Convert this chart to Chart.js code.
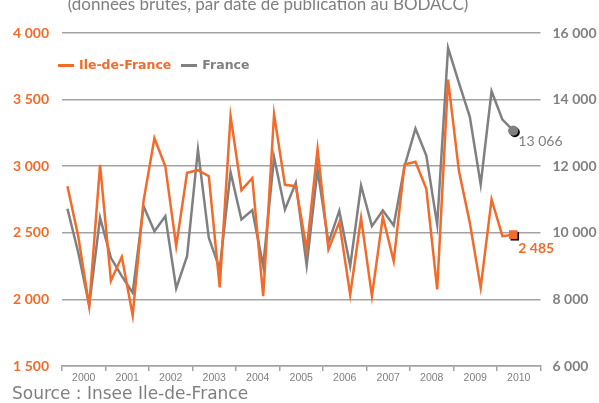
<!DOCTYPE html>
<html>
<head>
<meta charset="utf-8">
<script src="https://cdn.jsdelivr.net/npm/chart.js@4/dist/chart.umd.min.js"></script>
<style>
  body { margin: 0; background: #fff; }
  #wrap { position: relative; width: 599px; height: 403px; overflow: hidden; background: #fff; }
  #myChart { position: absolute; left: 0; top: 0; }
  .txt { position: absolute; font-family: Lato, "Open Sans", sans-serif; color: #7f7f7f; white-space: nowrap; }
  #title { left: 0; width: 536px; top: -5px; text-align: center; font-size: 17px; line-height: 17px; }
  #source { left: 12px; top: 385px; font-family: "DejaVu Sans", sans-serif; font-size: 17px; line-height: 17px; }
  #legend { left: 58px; top: 58px; font-family: "DejaVu Sans", sans-serif; font-size: 12.5px; font-weight: bold; line-height: 14px; display: flex; }
  #legend .item { display: flex; align-items: center; margin-right: 10px; }
  #legend .swatch { display: inline-block; width: 16px; height: 3px; margin-right: 5px; }
</style>
</head>
<body>
<div id="wrap">
  <canvas id="myChart" width="599" height="403"></canvas>
  <div id="title" class="txt">(données brutes, par date de publication au BODACC)</div>
  <div id="legend" class="txt"></div>
  <div id="source" class="txt">Source : Insee Ile-de-France</div>
</div>
<script>
// années et trimestres
var years = ['2000', '2001', '2002', '2003', '2004', '2005', '2006', '2007', '2008', '2009', '2010'];
var quarters = ['T1', 'T2', 'T3', 'T4'];

// défaillances d'entreprises, données brutes trimestrielles
var ileDeFrance = [2850, 2470, 1950, 3010, 2140, 2320, 1880, 2740, 3210, 3000, 2400, 2950,
    2970, 2925, 2090, 3375, 2820, 2910, 2025, 3390, 2860, 2850, 2375, 3130,
    2375, 2580, 2035, 2612, 2025, 2620, 2288, 3013, 3033, 2830, 2075, 3650,
    2963, 2575, 2088, 2750, 2475, 2485];
var france = [10720, 9400, 7820, 10450, 9250, 8700, 8200, 10800, 10050, 10500, 8330, 9300,
    12500, 9850, 8920, 11820, 10400, 10680, 9000, 12270, 10700, 11500, 9020, 11900,
    9700, 10660, 9000, 11420, 10200, 10670, 10220, 12000, 13130, 12320, 10250, 15550,
    14500, 13480, 11450, 14250, 13400, 13066];

var leftTicks = { min: 1500, max: 4000, step: 500 };
var rightTicks = { min: 6000, max: 16000, step: 2000 };

var orange = '#f26b2a';
var grey = '#808080';
var gridGrey = '#a3a3a3';

var quarterLabels = [];
years.forEach(function (y) {
    quarters.forEach(function (q) { quarterLabels.push(y + ' ' + q); });
});

function fmt(v) {
    return String(v).replace(/\B(?=(\d{3})+(?!\d))/g, ' ');
}

function lastOnly(r) {
    return function (c) { return c.dataIndex === c.dataset.data.length - 1 ? r : 0; };
}

// dernier point avec ombre + étiquette de valeur
var endMarks = {
    id: 'endMarks',
    afterDatasetsDraw: function (chart) {
        var ctx = chart.ctx;
        chart.data.datasets.forEach(function (ds, i) {
            var meta = chart.getDatasetMeta(i);
            var last = meta.data.length - 1;
            var pt = meta.data[last];
            ctx.save();
            ctx.shadowColor = '#000';
            ctx.shadowOffsetX = 1.5;
            ctx.shadowOffsetY = 1.5;
            ctx.shadowBlur = 0;
            pt.draw(ctx, chart.chartArea);
            ctx.restore();
            ctx.save();
            ctx.font = ds.labelFont;
            ctx.fillStyle = ds.borderColor;
            ctx.textAlign = 'left';
            ctx.textBaseline = 'middle';
            ctx.fillText(fmt(ds.data[last]), pt.x + 5, pt.y + ds.labelDy);
            ctx.restore();
        });
    }
};

var ctx = document.getElementById('myChart');
var chart = new Chart(ctx, {
    type: 'line',
    data: {
        labels: quarterLabels,
        datasets: [
            {
                label: 'Ile-de-France', data: ileDeFrance, yAxisID: 'y', xAxisID: 'xq',
                borderColor: orange, backgroundColor: orange, borderWidth: 2.5, tension: 0,
                pointStyle: 'rect', pointRadius: lastOnly(6), pointBorderWidth: 0,
                pointBackgroundColor: orange, labelFont: 'bold 14px Lato', labelDy: 14
            },
            {
                label: 'France', data: france, yAxisID: 'y1', xAxisID: 'xq',
                borderColor: grey, backgroundColor: grey, borderWidth: 2.5, tension: 0,
                pointStyle: 'circle', pointRadius: lastOnly(5), pointBorderWidth: 0,
                pointBackgroundColor: grey, labelFont: '14px Lato', labelDy: 11
            }
        ]
    },
    options: {
        responsive: false,
        animation: false,
        devicePixelRatio: 1,
        layout: { padding: { top: 33, left: 0, right: 0, bottom: 0 } },
        plugins: {
            legend: { display: false },
            tooltip: { enabled: false }
        },
        scales: {
            xq: {
                type: 'category', position: 'bottom', display: false, offset: true
            },
            x: {
                type: 'category', position: 'bottom', labels: years, offset: true,
                afterFit: function (s) { s.height = 37; },
                grid: { offset: true, drawOnChartArea: false, tickLength: 5, color: gridGrey, lineWidth: 1.5 },
                border: { display: true, color: gridGrey, width: 1.5 },
                ticks: { color: grey, padding: 1, maxRotation: 0, font: { family: 'Liberation Sans', size: 10.5 } }
            },
            y: {
                position: 'left', min: leftTicks.min, max: leftTicks.max,
                afterFit: function (s) { s.width = 62; },
                grid: { color: gridGrey, lineWidth: 1.5, drawTicks: false },
                border: { display: false },
                ticks: {
                    stepSize: leftTicks.step, color: orange, padding: 13,
                    font: { family: 'Lato', size: 14, weight: 'bold' },
                    callback: function (v) { return fmt(v); }
                }
            },
            y1: {
                position: 'right', min: rightTicks.min, max: rightTicks.max,
                afterFit: function (s) { s.width = 58.5; },
                grid: { display: false, drawTicks: false },
                border: { display: false },
                ticks: {
                    stepSize: rightTicks.step, color: grey, padding: 12,
                    font: { family: 'Lato', size: 14, weight: 'bold' },
                    callback: function (v) { return fmt(v); }
                }
            }
        }
    },
    plugins: [endMarks]
});

// légende dans la zone du graphique
var legend = document.getElementById('legend');
chart.data.datasets.forEach(function (ds) {
    var item = document.createElement('span');
    item.className = 'item';
    item.style.color = ds.borderColor;
    var sw = document.createElement('span');
    sw.className = 'swatch';
    sw.style.background = ds.borderColor;
    item.appendChild(sw);
    item.appendChild(document.createTextNode(ds.label));
    legend.appendChild(item);
});
</script>
</body>
</html>
